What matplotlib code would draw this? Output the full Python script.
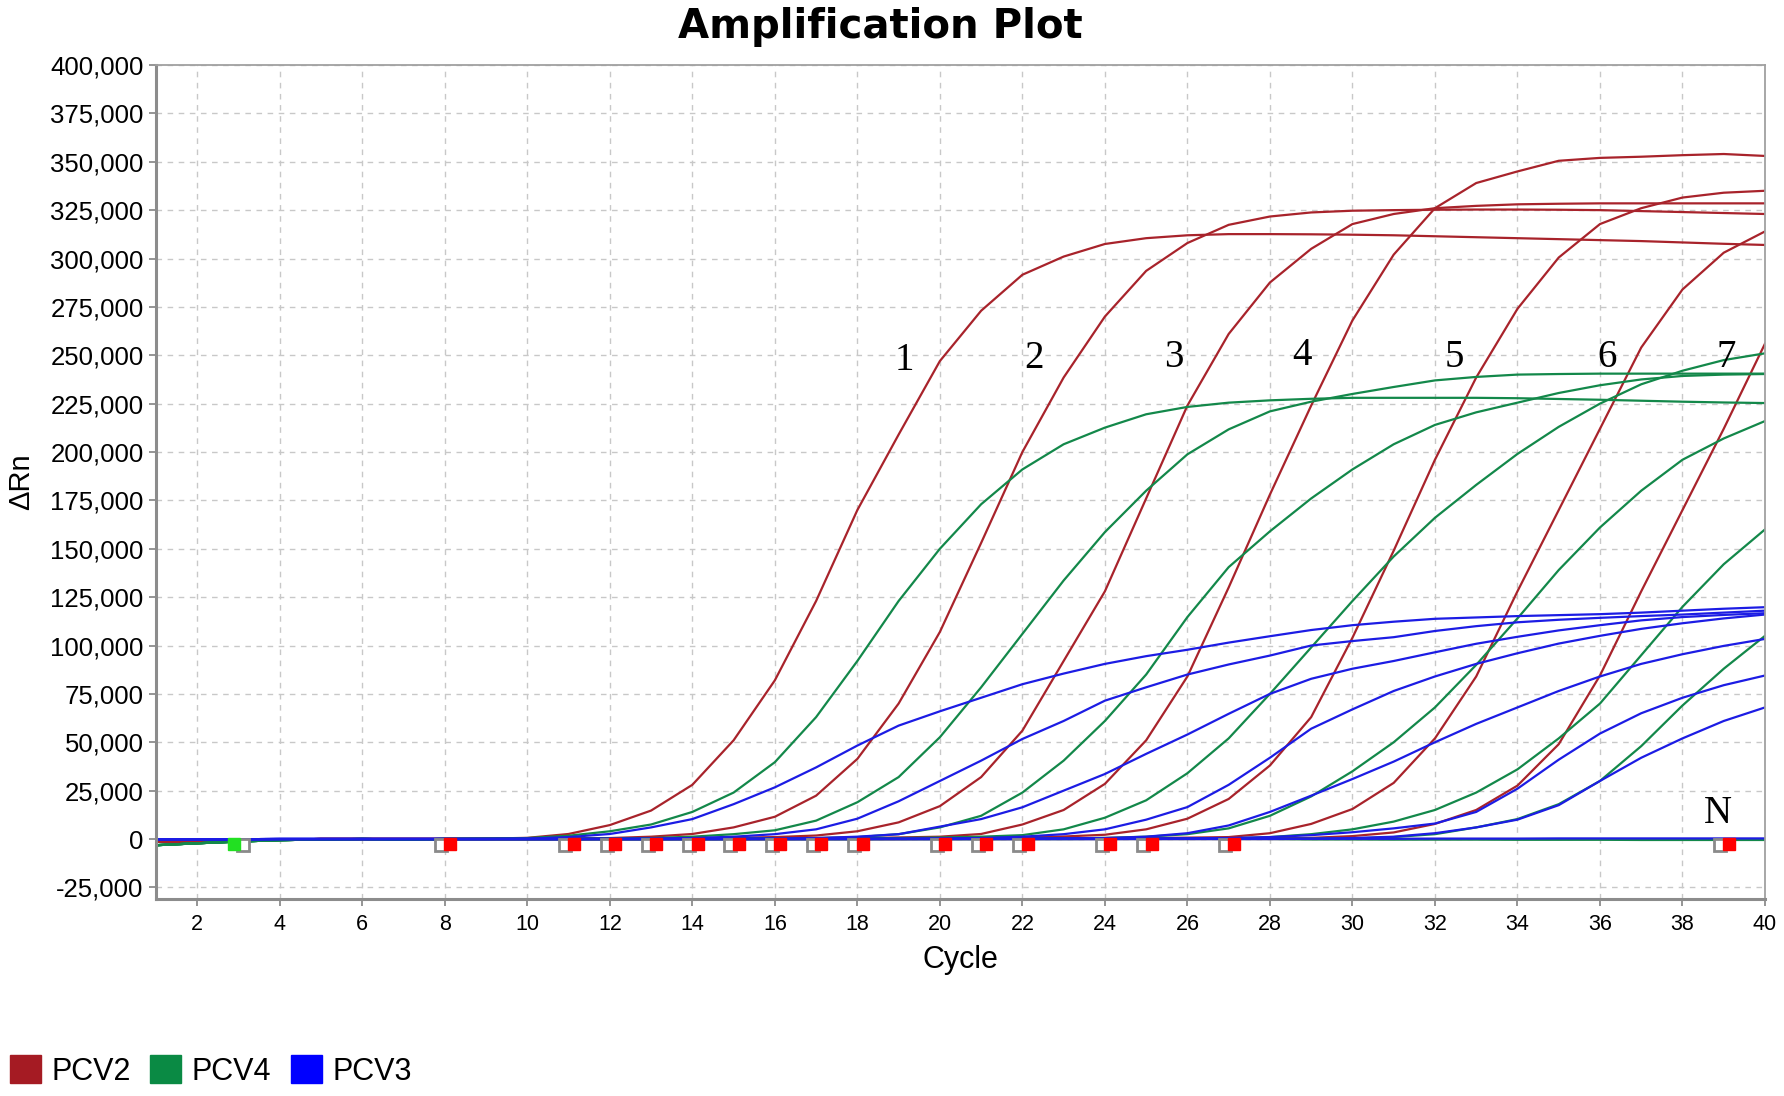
import numpy as np

import matplotlib
matplotlib.use('Agg')

import matplotlib.pyplot as plt
from matplotlib.patches import Patch
from matplotlib.ticker import FuncFormatter

plt.rcParams['font.family'] = ['Liberation Sans', 'DejaVu Sans']

cycles = np.arange(1, 41)

# delta Rn per cycle, in thousands (cycles 1..40)
# PCV2 dilutions 1..7 + negative
pcv2_1 = [-1.5, -1.0, -0.6, -0.3, 0, 0, 0, 0, 0.2, 0.6,
          2.6, 7.2, 14.7, 28, 51, 82, 123, 170, 209, 247,
          273, 291.6, 301, 307.5, 310.5, 312, 312.6, 312.6, 312.5, 312.3,
          312, 311.5, 311, 310.5, 310, 309.5, 309, 308.3, 307.6, 307]
pcv2_2 = [-1.5, -1.0, -0.6, -0.3, 0, 0, 0, 0, 0, 0,
          0.2, 0.5, 1.2, 2.6, 6, 11.5, 22.4, 41.4, 70, 107,
          153, 200, 238.5, 270, 293.6, 308, 317.4, 321.7, 323.8, 324.7,
          325, 325.2, 325.3, 325.3, 325.2, 325, 324.5, 324, 323.5, 323]
pcv2_3 = [-1.5, -1.0, -0.6, -0.3, 0, 0, 0, 0, 0, 0,
          0, 0.1, 0.2, 0.4, 0.6, 1.0, 1.8, 4, 8.6, 17,
          32, 56, 92, 128, 176, 224, 261, 287.6, 305, 317.8,
          323, 326, 327.2, 328, 328.3, 328.5, 328.5, 328.5, 328.5, 328.5]
pcv2_4 = [-1.5, -1.0, -0.6, -0.3, 0, 0, 0, 0, 0, 0,
          0, 0, 0, 0, 0.1, 0.2, 0.3, 0.5, 0.8, 1.2,
          2.6, 7.5, 15, 28.5, 51, 84, 130, 178, 224, 268,
          302, 326, 339, 345, 350.5, 352, 352.6, 353.4, 354, 353]
pcv2_5 = [-1.5, -1.0, -0.6, -0.3, 0, 0, 0, 0, 0, 0,
          0, 0, 0, 0, 0, 0, 0.1, 0.2, 0.3, 0.4,
          0.6, 0.9, 1.3, 2.2, 5, 10.5, 20.7, 38, 63, 104,
          149, 196, 238.5, 274, 300.5, 317.8, 326, 331.5, 334, 335]
pcv2_6 = [-1.5, -1.0, -0.6, -0.3, 0, 0, 0, 0, 0, 0,
          0, 0, 0, 0, 0, 0, 0, 0, 0, 0.1,
          0.1, 0.2, 0.3, 0.4, 0.5, 0.7, 1.0, 3, 7.8, 15.5,
          29, 52, 84, 128, 170, 212, 254, 284, 303, 314]
pcv2_7 = [-1.5, -1.0, -0.6, -0.3, 0, 0, 0, 0, 0, 0,
          0, 0, 0, 0, 0, 0, 0, 0, 0, 0,
          0, 0, 0.1, 0.1, 0.2, 0.2, 0.3, 0.4, 0.6, 1.5,
          3.4, 7.8, 15, 27.6, 49, 84.5, 128, 170, 212, 256]
pcv2_n = [-1.5, -1.0, -0.6, -0.3, 0, 0, 0, 0, 0, 0,
          0, 0, 0, 0, 0, 0, 0, 0, 0, 0,
          0, 0, 0, 0, 0, 0, 0, 0, 0, 0,
          0, 0, 0, 0, 0, 0, 0, 0, 0, 0]

# PCV4
pcv4_1 = [-3.2, -2.2, -1.3, -0.6, -0.2, 0, -0.2, 0, 0.2, 0.5,
          1.7, 4, 7.5, 14, 24, 39.7, 63, 92, 123, 150,
          173, 191, 204, 212.6, 219.5, 223.3, 225.5, 226.7, 227.5, 228,
          228, 228, 228, 227.8, 227.4, 227, 226.5, 226, 225.6, 225.3]
pcv4_2 = [-3.2, -2.2, -1.3, -0.6, -0.2, 0, -0.2, 0, 0, 0,
          0.1, 0.2, 0.5, 1.2, 2.5, 4.5, 9.5, 19, 32, 52.6,
          78.4, 106, 133.6, 158.6, 180, 198.8, 211.7, 221, 226, 230,
          233.6, 237, 238.8, 240, 240.3, 240.5, 240.5, 240.5, 240.5, 240.5]
pcv4_3 = [-3.2, -2.2, -1.3, -0.6, -0.2, 0, -0.2, 0, 0, 0,
          0, 0, 0, 0.1, 0.2, 0.3, 0.5, 1, 2.5, 6,
          12, 24, 40.5, 61, 85, 114.7, 140.5, 159, 176, 191,
          204, 214, 220.5, 225.5, 230.5, 234.5, 237.5, 239.3, 240, 240.3]
pcv4_4 = [-3.2, -2.2, -1.3, -0.6, -0.2, 0, -0.2, 0, 0, 0,
          0, 0, 0, 0, 0, 0.1, 0.2, 0.3, 0.5, 0.8,
          1.2, 2, 5, 11, 20, 34, 52, 75, 99, 123,
          146, 166, 183, 199, 213, 225, 235, 242, 247.5, 251]
pcv4_5 = [-3.2, -2.2, -1.3, -0.6, -0.2, 0, -0.2, 0, 0, 0,
          0, 0, 0, 0, 0, 0, 0, 0, 0.1, 0.1,
          0.2, 0.2, 0.3, 0.6, 1.2, 2.5, 5.5, 12, 22, 35,
          50, 68, 90, 114, 139, 161, 180, 196, 207, 216]
pcv4_6 = [-3.2, -2.2, -1.3, -0.6, -0.2, 0, -0.2, 0, 0, 0,
          0, 0, 0, 0, 0, 0, 0, 0, 0, 0,
          0, 0.1, 0.1, 0.1, 0.2, 0.2, 0.3, 1, 2.5, 5,
          9, 15, 24, 36, 52, 70, 95, 120, 142, 160]
pcv4_7 = [-3.2, -2.2, -1.3, -0.6, -0.2, 0, -0.2, 0, 0, 0,
          0, 0, 0, 0, 0, 0, 0, 0, 0, 0,
          0, 0, 0, 0.1, 0.1, 0.1, 0.2, 0.2, 0.2, 0.3,
          1, 2.5, 6, 10.3, 18, 30, 48, 69, 88, 105]
pcv4_n = [-3.2, -2.2, -1.3, -0.6, -0.2, 0, -0.2, 0, 0, 0,
          0, 0, 0, 0, 0, 0, 0, 0, 0, 0,
          0, 0, 0, 0, 0, 0, 0, 0, -0.2, -0.2,
          -0.3, -0.3, -0.3, -0.4, -0.4, -0.4, -0.5, -0.5, -0.5, -0.5]

# PCV3
pcv3_1 = [-0.3, -0.2, -0.1, 0, 0, 0, 0, 0, 0, 0.2,
          1, 2.6, 6, 10.3, 18, 26.7, 37, 48.3, 58.6, 66,
          73, 80, 85.5, 90.5, 94.5, 97.8, 101.5, 104.8, 108, 110.5,
          112.3, 113.8, 114.5, 115.2, 115.7, 116.2, 117, 118, 119, 119.8]
pcv3_2 = [-0.3, -0.2, -0.1, 0, 0, 0, 0, 0, 0, 0,
          0, 0.1, 0.2, 0.5, 1.2, 2.5, 5, 10.5, 19.5, 30,
          40.5, 51.7, 61, 71.5, 78.4, 85, 90.2, 94.8, 100, 102.3,
          104.3, 107.5, 110, 112, 113.3, 114.3, 115.2, 116, 117, 118]
pcv3_3 = [-0.3, -0.2, -0.1, 0, 0, 0, 0, 0, 0, 0,
          0, 0, 0, 0.1, 0.2, 0.3, 0.5, 1.2, 2.5, 6.4,
          10.3, 16.4, 25, 33.6, 44, 54, 64.7, 75, 82.8, 88,
          92, 96.5, 100.9, 104.5, 107.8, 110.5, 113, 114.7, 115.8, 116.7]
pcv3_4 = [-0.3, -0.2, -0.1, 0, 0, 0, 0, 0, 0, 0,
          0, 0, 0, 0, 0, 0.1, 0.1, 0.2, 0.2, 0.3,
          0.5, 1.2, 2.5, 5, 10, 16.5, 28, 42, 57, 67,
          76.5, 84, 90.5, 96, 101, 105, 108.6, 111.5, 114, 116]
pcv3_5 = [-0.3, -0.2, -0.1, 0, 0, 0, 0, 0, 0, 0,
          0, 0, 0, 0, 0, 0, 0, 0.1, 0.1, 0.2,
          0.2, 0.3, 0.4, 0.5, 1.2, 3, 7, 14, 22.4, 31,
          40, 50, 59.5, 68, 76.5, 84, 90.5, 95.5, 99.8, 103.4]
pcv3_6 = [-0.3, -0.2, -0.1, 0, 0, 0, 0, 0, 0, 0,
          0, 0, 0, 0, 0, 0, 0, 0, 0, 0,
          0.1, 0.1, 0.2, 0.2, 0.3, 0.4, 0.5, 1, 2, 3.5,
          5.5, 8, 14, 26, 41, 54.5, 65, 73, 79.5, 84.5]
pcv3_7 = [-0.3, -0.2, -0.1, 0, 0, 0, 0, 0, 0, 0,
          0, 0, 0, 0, 0, 0, 0, 0, 0, 0,
          0, 0, 0, 0, 0.1, 0.1, 0.1, 0.2, 0.2, 0.5,
          1.2, 3, 6, 10, 17.5, 30, 42, 52, 61, 68]
pcv3_n = [-0.3, -0.2, -0.1, 0, 0, 0, 0, 0, 0, 0,
          0, 0, 0, 0, 0, 0, 0, 0, 0, 0,
          0, 0, 0, 0, 0, 0, 0, 0, 0.1, 0.1,
          0.1, 0.2, 0.2, 0.2, 0.3, 0.3, 0.3, 0.3, 0.3, 0.3]

pcv2 = [pcv2_1, pcv2_2, pcv2_3, pcv2_4, pcv2_5, pcv2_6, pcv2_7, pcv2_n]
pcv4 = [pcv4_1, pcv4_2, pcv4_3, pcv4_4, pcv4_5, pcv4_6, pcv4_7, pcv4_n]
pcv3 = [pcv3_1, pcv3_2, pcv3_3, pcv3_4, pcv3_5, pcv3_6, pcv3_7, pcv3_n]

# cycle markers along the baseline
red_mark_cycles = [8, 11, 12, 13, 14, 15, 16, 17, 18, 20, 21, 22, 24, 25, 27, 39]
green_mark_cycles = [3]
mark_level = -2.5  # thousands

# dilution labels
label_text = ['1', '2', '3', '4', '5', '6', '7', 'N']
label_cycle = [19.13, 22.27, 25.68, 28.77, 32.46, 36.18, 39.07, 38.86]
label_value = [247.5, 248.5, 249, 250, 249, 249, 249, 13]

legend_names = ['PCV2', 'PCV4', 'PCV3']
legend_colors = ['#a51b23', '#0a8a44', '#0000ff']

red = '#a8232b'
green = '#13884a'
blue = '#1c1ce4'

fig = plt.figure(figsize=(17.84, 10.96), dpi=100)
ax = fig.add_axes([156/1784, 1-899/1096, (1765-156)/1784, (899-65)/1096])

for series, col in [(pcv2, red), (pcv4, green), (pcv3, blue)]:
    for s in series:
        ax.plot(cycles, np.array(s)*1000, color=col, lw=1.6, solid_joinstyle='miter')

# markers: gray hollow square with filled square next to it
for c in red_mark_cycles:
    ax.plot(c-0.08, mark_level*1000-700, 's', ms=8.5, mfc='white', mec='#8a8a8a', mew=2)
    ax.plot(c+0.13, mark_level*1000, 's', ms=8.5, mfc='#ff0000', mec='#ff0000', mew=1)
for c in green_mark_cycles:
    ax.plot(c+0.1, mark_level*1000-700, 's', ms=8.5, mfc='white', mec='#8a8a8a', mew=2)
    ax.plot(c-0.12, mark_level*1000, 's', ms=8.5, mfc='#22e022', mec='#22e022', mew=1)

for t, x, y in zip(label_text, label_cycle, label_value):
    ax.text(x, y*1000, t, family='Liberation Serif', fontsize=28,
            ha='center', va='center')

ax.set_xlim(1, 40)
ax.set_ylim(-31000, 400000)
ax.set_xticks(range(2, 41, 2))
ax.set_yticks(range(-25000, 400001, 25000))
ax.yaxis.set_major_formatter(FuncFormatter(lambda v, p: f'{int(v):,}'))

ax.set_axisbelow(True)
ax.grid(True, color='#c8c8c8', linestyle=(0, (4, 4)), linewidth=1.0)

for side in ['top', 'right']:
    ax.spines[side].set_color('#a0a0a0')
    ax.spines[side].set_linewidth(1.3)
for side in ['left', 'bottom']:
    ax.spines[side].set_color('#8c8c8c')
    ax.spines[side].set_linewidth(2.2)

ax.tick_params(axis='both', direction='out', length=5, width=1.3, color='#8c8c8c')
ax.tick_params(axis='x', labelsize=15.5, pad=6)
ax.tick_params(axis='y', labelsize=18.5, pad=4)

ax.set_xlabel('Cycle', fontsize=22, va='center')
ax.xaxis.set_label_coords(0.5, -0.073)
ax.set_ylabel('ΔRn', fontsize=21, va='center')
ax.yaxis.set_label_coords(-0.084, 0.5)

fig.text(880/1784, 1-27/1096, 'Amplification Plot', family='DejaVu Sans',
         weight='bold', fontsize=29, ha='center', va='center')

handles = [Patch(facecolor=c, edgecolor=c) for c in legend_colors]
fig.legend(handles, legend_names, loc='center left',
           bbox_to_anchor=(10/1784, 1-1071/1096), ncol=3, frameon=False,
           fontsize=22, handlelength=1.0, handleheight=1.0,
           handletextpad=0.35, columnspacing=0.65, borderpad=0, borderaxespad=0)

plt.savefig('out.png', dpi=100)
